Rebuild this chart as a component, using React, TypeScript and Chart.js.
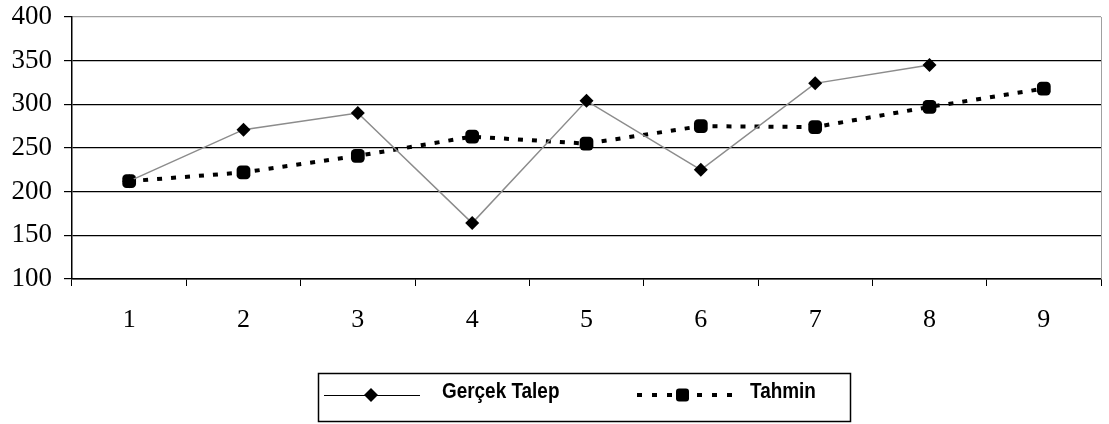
import React, { useEffect, useRef } from "react";
import { Chart, registerables } from "chart.js";

Chart.register(...registerables);

const categories = ["1", "2", "3", "4", "5", "6", "7", "8", "9"];
const actualDemand: (number | null)[] = [212, 271, 290, 164, 304, 225, 324, 345, null];
const forecast: number[] = [212, 222, 241, 263, 255, 275, 274, 297, 318];
const yTicks = [100, 150, 200, 250, 300, 350, 400];
const seriesNames = ["Gerçek Talep", "Tahmin"];

const boxLegend = {
  id: "boxLegend",
  afterDraw(chart: any) {
    const ctx = chart.ctx as CanvasRenderingContext2D;
    const area = chart.chartArea;
    ctx.save();
    // plot-area right border (grey)
    ctx.strokeStyle = "#a0a0a0";
    ctx.lineWidth = 1;
    ctx.beginPath();
    ctx.moveTo(Math.round(area.right) + 0.5, area.top);
    ctx.lineTo(Math.round(area.right) + 0.5, area.bottom);
    ctx.stroke();

    // legend box
    const bx = 318.5, by = 373.5, bw = 532, bh = 48;
    ctx.strokeStyle = "#000";
    ctx.lineWidth = 1.5;
    ctx.strokeRect(bx, by, bw, bh);
    const cy = 395;

    // item 1: solid line with diamond
    ctx.strokeStyle = "#000";
    ctx.lineWidth = 1;
    ctx.beginPath();
    ctx.moveTo(324, cy + 0.5);
    ctx.lineTo(420, cy + 0.5);
    ctx.stroke();
    ctx.fillStyle = "#000";
    ctx.beginPath();
    ctx.moveTo(371, cy - 7);
    ctx.lineTo(378, cy);
    ctx.lineTo(371, cy + 7);
    ctx.lineTo(364, cy);
    ctx.closePath();
    ctx.fill();

    // item 2: dashed line with square
    ctx.lineWidth = 4;
    ctx.setLineDash([5, 10]);
    ctx.beginPath();
    ctx.moveTo(637, cy);
    ctx.lineTo(732, cy);
    ctx.stroke();
    ctx.setLineDash([]);
    ctx.beginPath();
    (ctx as any).roundRect ? (ctx as any).roundRect(676, cy - 6.5, 13, 13, 3) : ctx.rect(676, cy - 6.5, 13, 13);
    ctx.fill();

    // texts (condensed bold sans)
    ctx.font = "bold 22px 'Liberation Sans', Arial, sans-serif";
    ctx.textBaseline = "middle";
    ctx.textAlign = "left";
    const drawCond = (t: string, x: number) => {
      ctx.save();
      ctx.translate(x, cy - 3);
      ctx.scale(0.86, 1);
      ctx.fillText(t, 0, 0);
      ctx.restore();
    };
    drawCond(seriesNames[0], 442);
    drawCond(seriesNames[1], 750);
    ctx.restore();
  },
};

export default function App() {
  const ref = useRef<HTMLCanvasElement | null>(null);
  useEffect(() => {
    document.body.style.margin = "0";
    const chart = new Chart(ref.current as HTMLCanvasElement, {
      type: "line",
      data: {
        labels: categories,
        datasets: [
          {
            label: seriesNames[0],
            data: actualDemand,
            borderColor: "#8c8c8c",
            borderWidth: 1.5,
            pointStyle: "rectRot",
            pointRadius: 7,
            pointBackgroundColor: "#000",
            pointBorderColor: "#000",
            pointBorderWidth: 0,
            tension: 0,
          },
          {
            label: seriesNames[1],
            data: forecast,
            borderColor: "#000",
            borderWidth: 4,
            borderDash: [5, 9],
            pointStyle: "rectRounded",
            pointRadius: 8,
            pointBackgroundColor: "#000",
            pointBorderColor: "#000",
            pointBorderWidth: 0,
            tension: 0,
          },
        ],
      },
      options: {
        animation: false,
        responsive: false,
        devicePixelRatio: 1,
        layout: { padding: { left: 0, top: 17, right: 5, bottom: 0 } },
        plugins: { legend: { display: false }, tooltip: { enabled: false } },
        scales: {
          x: {
            offset: true,
            grid: {
              offset: true,
              drawOnChartArea: false,
              drawTicks: true,
              tickLength: 7,
              tickColor: "#000",
            },
            border: { display: true, color: "#000", width: 1.5 },
            ticks: {
              color: "#000",
              padding: 19,
              font: { family: "'Liberation Serif', 'Times New Roman', serif", size: 26 },
            },
            afterFit(scale: any) {
              scale.height = 145;
              scale.paddingLeft = 0;
              scale.paddingRight = 0;
            },
          },
          y: {
            min: 100,
            max: 400,
            afterBuildTicks(scale: any) {
              scale.ticks = yTicks.map((v) => ({ value: v }));
            },
            grid: {
              color: (c: any) => (c.tick && c.tick.value === 400 ? "#a0a0a0" : "#000"),
              lineWidth: 1.2,
              tickLength: 8,
              tickColor: "#000",
            },
            border: { display: true, color: "#000", width: 1.5 },
            ticks: {
              color: "#000",
              padding: 12,
              font: { family: "'Liberation Serif', 'Times New Roman', serif", size: 27 },
            },
            afterFit(scale: any) {
              scale.width = 72;
              scale.paddingTop = 0;
              scale.paddingBottom = 0;
            },
          },
        },
      },
      plugins: [boxLegend],
    });
    return () => chart.destroy();
  }, []);
  return (
    <div style={{ position: "fixed", left: 0, top: 0, width: 1109, height: 424, background: "#fff" }}>
      <canvas ref={ref} width={1109} height={424} style={{ width: 1109, height: 424, display: "block" }} />
    </div>
  );
}
